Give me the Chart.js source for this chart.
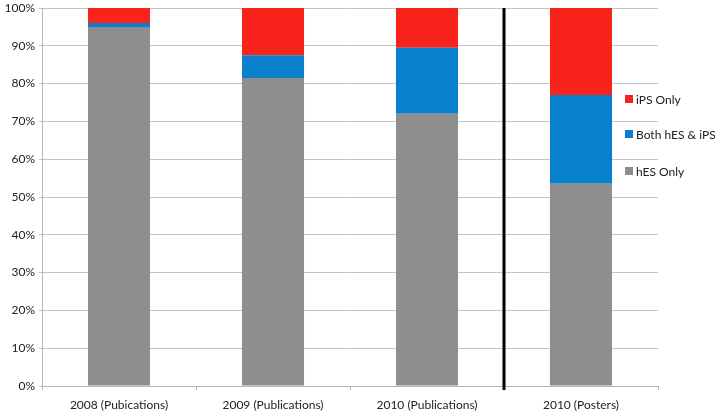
<!DOCTYPE html>
<html>
<head>
<meta charset="utf-8">
<script src="https://cdn.jsdelivr.net/npm/chart.js@4/dist/chart.umd.min.js"></script>
<style>
  html, body { margin: 0; padding: 0; background: #fff; }
  #wrap { width: 715px; height: 416px; }
</style>
</head>
<body>
<div id="wrap"><canvas id="chart"></canvas></div>
<script>
const categories = ["2008 (Pubications)", "2009 (Publications)", "2010 (Publications)", "2010 (Posters)"];
const hesOnly = [95, 81.5, 72, 53.5];
const bothHesIps = [1, 6, 17.5, 23.5];
const ipsOnly = [4, 12.5, 10.5, 23];
const yTicks = [0, 10, 20, 30, 40, 50, 60, 70, 80, 90, 100];

const FONT = "Lato, 'Open Sans', sans-serif";

// Divider line between publications and posters
const dividerPlugin = {
  id: "divider",
  afterDatasetsDraw(chart) {
    const x = chart.scales.x;
    const area = chart.chartArea;
    const px = Math.round(x.getPixelForValue(2.5));
    const ctx = chart.ctx;
    ctx.save();
    ctx.strokeStyle = "#000";
    ctx.lineWidth = 3;
    ctx.beginPath();
    ctx.moveTo(px, area.top);
    ctx.lineTo(px, area.bottom + 4);
    ctx.stroke();
    ctx.restore();
  }
};

// Legend drawn over the right side, like the original
const legendPlugin = {
  id: "sideLegend",
  afterDraw(chart) {
    const ctx = chart.ctx;
    const items = chart.data.datasets.slice().reverse();
    const ys = [99, 134, 171];
    ctx.save();
    ctx.font = "12px " + FONT;
    ctx.textBaseline = "middle";
    items.forEach((ds, i) => {
      ctx.fillStyle = ds.backgroundColor;
      ctx.fillRect(625, ys[i] - 4, 8, 8);
      ctx.fillStyle = "#222";
      ctx.fillText(ds.label, 636, ys[i] + 1);
    });
    ctx.restore();
  }
};

new Chart(document.getElementById("chart"), {
  type: "bar",
  data: {
    labels: categories,
    datasets: [
      { label: "hES Only", data: hesOnly, backgroundColor: "#8e8e8e" },
      { label: "Both hES & iPS", data: bothHesIps, backgroundColor: "#0a7fcb" },
      { label: "iPS Only", data: ipsOnly, backgroundColor: "#f8231a" }
    ]
  },
  options: {
    responsive: true,
    maintainAspectRatio: false,
    animation: false,
    layout: { padding: { left: 0, right: 57, top: 8, bottom: 0 } },
    datasets: { bar: { categoryPercentage: 1, barPercentage: 0.403, borderWidth: 0 } },
    plugins: { legend: { display: false }, tooltip: { enabled: false } },
    scales: {
      x: {
        stacked: true,
        offset: true,
        grid: { offset: true, drawOnChartArea: false, drawTicks: true, tickLength: 4, color: "#b5b5b5" },
        border: { color: "#b5b5b5" },
        ticks: { color: "#222", font: { family: FONT, size: 12 }, padding: 8, maxRotation: 0 },
        afterFit(scale) { scale.height = 30; scale.paddingLeft = 0; scale.paddingRight = 0; }
      },
      y: {
        stacked: true,
        min: 0,
        max: 100,
        afterBuildTicks(scale) { scale.ticks = yTicks.map(v => ({ value: v })); },
        grid: { color: "#c4c4c4", tickLength: 3 },
        border: { color: "#b5b5b5" },
        ticks: {
          color: "#222",
          font: { family: FONT, size: 12 },
          padding: 4,
          callback: v => v + "%"
        },
        afterFit(scale) { scale.width = 42; scale.paddingTop = 0; scale.paddingBottom = 0; }
      }
    }
  },
  plugins: [dividerPlugin, legendPlugin]
});
</script>
</body>
</html>
